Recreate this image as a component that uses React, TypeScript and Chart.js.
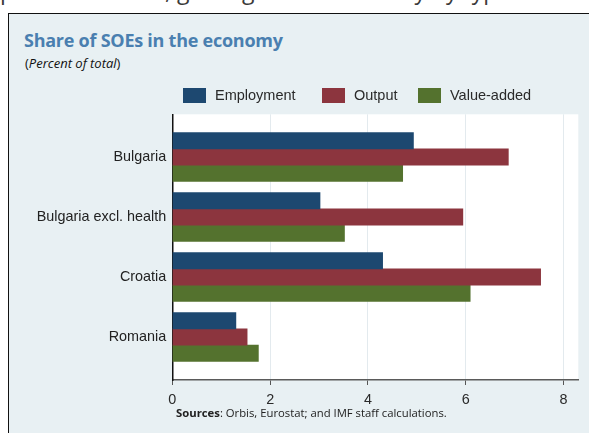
import React, { useEffect, useRef } from "react";
import { Chart, registerables } from "chart.js";

Chart.register(...registerables);

const categories = ["Bulgaria", "Bulgaria excl. health", "Croatia", "Romania"];
const seriesNames = ["Employment", "Output", "Value-added"];
const employment = [4.93, 3.02, 4.3, 1.3];
const output = [6.87, 5.94, 7.53, 1.53];
const valueAdded = [4.71, 3.52, 6.09, 1.76];
const xTicks = [0, 2, 4, 6, 8];
const colors = ["#1d4870", "#8c353e", "#54722e"];

const FONT = "'Liberation Sans', Arial, sans-serif";

const plotBg = {
  id: "plotBg",
  beforeDraw(chart: any) {
    const { ctx, chartArea } = chart;
    ctx.save();
    ctx.fillStyle = "#ffffff";
    ctx.fillRect(chartArea.left, chartArea.top, chartArea.right - chartArea.left, chartArea.bottom - chartArea.top);
    ctx.restore();
  },
};

const legendAt = {
  id: "legendAt",
  afterDraw(chart: any) {
    const { ctx } = chart;
    const xs = [183, 322, 418];
    ctx.save();
    ctx.font = `14.5px ${FONT}`;
    ctx.textBaseline = "middle";
    chart.data.datasets.forEach((ds: any, i: number) => {
      ctx.fillStyle = ds.backgroundColor;
      ctx.fillRect(xs[i], 88, 23, 15);
      ctx.fillStyle = "#2a2a2a";
      ctx.fillText(ds.label, xs[i] + 32, 96);
    });
    ctx.restore();
  },
};

export default function App() {
  const ref = useRef<HTMLCanvasElement>(null);

  useEffect(() => {
    document.body.style.margin = "0";
    const series = [employment, output, valueAdded];
    const chart = new Chart(ref.current!, {
      type: "bar",
      data: {
        datasets: series.map((vals, s) => ({
          label: seriesNames[s],
          data: vals.map((v, i) => ({ x: v, y: i })),
          backgroundColor: colors[s],
          borderWidth: 0,
          barThickness: 16.3,
        })),
      },
      options: {
        indexAxis: "y",
        animation: false,
        responsive: false,
        devicePixelRatio: 1,
        layout: { padding: { left: 0, top: 114.3, right: 10.7, bottom: 0 } },
        plugins: { legend: { display: false }, tooltip: { enabled: false } },
        scales: {
          x: {
            type: "linear",
            min: 0,
            max: 8.3,
            offset: false,
            afterFit: (s: any) => {
              s.height = 53;
            },
            afterBuildTicks: (s: any) => {
              s.ticks = xTicks.map((v) => ({ value: v }));
            },
            grid: {
              color: "#e3eaee",
              lineWidth: 1,
              tickColor: "#555555",
              tickLength: 5,
              drawTicks: true,
              offset: false,
            },
            border: { display: true, color: "#5a5a5a", width: 1.5 },
            ticks: {
              padding: 6,
              color: "#2a2a2a",
              font: { family: FONT, size: 14.4 },
              maxRotation: 0,
            },
          },
          y: {
            type: "linear",
            reverse: true,
            offset: false,
            min: -0.712,
            max: 3.717,
            afterFit: (s: any) => {
              s.width = 172.3;
            },
            afterBuildTicks: (s: any) => {
              s.ticks = categories.map((_, i) => ({ value: i }));
            },
            grid: { display: false, drawTicks: false, offset: false },
            border: { display: true, color: "#111111", width: 1.5 },
            ticks: {
              padding: 6,
              color: "#222222",
              autoSkip: false,
              font: { family: FONT, size: 14.4 },
              callback: (v: any) => categories[v as number] ?? "",
            },
          },
        },
      },
      plugins: [plotBg, legendAt],
    } as any);
    return () => chart.destroy();
  }, []);

  return (
    <div style={{ position: "fixed", left: 0, top: 0, width: 589, height: 433, overflow: "hidden", background: "#ffffff" }}>
      <div
        style={{
          position: "absolute",
          left: 0,
          top: -26,
          whiteSpace: "nowrap",
          fontFamily: "'Open Sans', sans-serif",
          fontSize: 23,
          color: "#3a3a3a",
        }}
      >
        percent of total, gaining in the economy by type
      </div>
      <div
        style={{
          position: "absolute",
          left: 8,
          top: 13,
          width: 600,
          height: 440,
          background: "#e8f0f3",
          borderLeft: "1.5px solid #111",
          borderTop: "1.5px solid #111",
        }}
      />
      <div
        style={{
          position: "absolute",
          left: 24,
          top: 28,
          fontFamily: "'Open Sans', sans-serif",
          fontWeight: 700,
          fontSize: 18,
          letterSpacing: -0.25,
          color: "#4a7fb0",
          whiteSpace: "nowrap",
        }}
      >
        Share of SOEs in the economy
      </div>
      <div
        style={{
          position: "absolute",
          left: 25,
          top: 54,
          fontFamily: "'Open Sans', sans-serif",
          fontSize: 13,
          color: "#111",
          whiteSpace: "nowrap",
        }}
      >
        (<i>Percent of total</i>)
      </div>
      <canvas ref={ref} width={589} height={433} style={{ position: "absolute", left: 0, top: 0, width: 589, height: 433 }} />
      <div
        style={{
          position: "absolute",
          left: 176,
          top: 405,
          fontFamily: "'Open Sans', sans-serif",
          fontSize: 11.3,
          color: "#222",
          whiteSpace: "nowrap",
        }}
      >
        <b>Sources</b>: Orbis, Eurostat; and IMF staff calculations.
      </div>
    </div>
  );
}
